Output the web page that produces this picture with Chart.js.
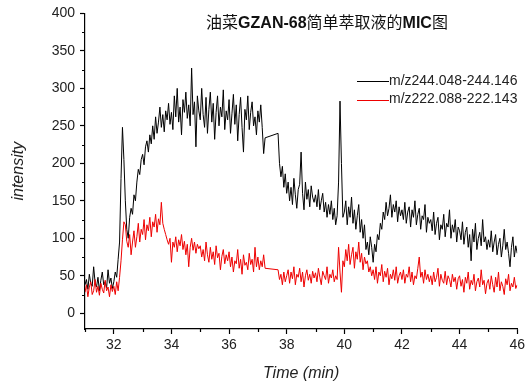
<!DOCTYPE html>
<html>
<head>
<meta charset="utf-8">
<script src="https://cdn.jsdelivr.net/npm/chart.js@4.4.0/dist/chart.umd.min.js"></script>
<style>
  html, body { margin: 0; padding: 0; background: #fff; }
</style>
</head>
<body>
<canvas id="micChart" width="528" height="387"></canvas>
<script>
// chart text
var titleParts = ['油菜', 'GZAN-68', '简单萃取液的', 'MIC', '图'];
var seriesNames = ['m/z244.048-244.146', 'm/z222.088-222.143'];

// axes
var xTicks = [32, 34, 36, 38, 40, 42, 44, 46];
var xMinorTicks = [31, 33, 35, 37, 39, 41, 43, 45];
var yTicks = [0, 50, 100, 150, 200, 250, 300, 350, 400];
var yMinorTicks = [25, 75, 125, 175, 225, 275, 325, 375];

// scans every 0.05 min from 31.00 to 46.00, one row per minute
var startTime = 31;
var timeStep = 0.05;

var mz244 = [
    38, 45, 32, 52, 40, 36, 62, 41, 35, 48, 30, 44, 55, 38, 42, 34, 58, 40, 47, 33,
    42, 55, 48, 72, 95, 180, 248, 205, 150, 112, 100, 128, 140, 132, 158, 150, 175, 192, 185, 205,
    212, 198, 222, 230, 215, 238, 226, 250, 232, 262, 240, 255, 275, 248, 265, 242, 270, 258, 280, 252,
    268, 245, 290, 262, 300, 255, 275, 238, 285, 268, 295, 260, 278, 250, 327, 265, 282, 222, 290, 270,
    258, 300, 265, 248, 288, 240, 272, 295, 255, 280, 232, 268, 290, 250, 275, 262, 298, 245, 270, 258,
    285, 240, 266, 292, 252, 278, 230, 265, 288, 248, 215, 272, 258, 290, 245, 268, 282, 250, 262, 238,
    270, 255, 278, 248, 213, 234, null, null, null, null, null, null, null, null, 240, 200, 182, 196, 168, 186,
    160, 175, 150, 168, 145, 180, 158, 140, 165, 172, 215, 160, 138, 175, 152, 165, 142, 170, 155, 148,
    158, 142, 165, 138, 150, 160, 135, 148, 128, 145, 132, 150, 125, 140, 118, 130, 175, 283, 200, 128,
    135, 150, 118, 142, 128, 155, 120, 138, 112, 130, 145, 108, 125, 100, 118, 85, 95, 78, 102, 88,
    68, 92, 82, 105, 98, 120, 112, 135, 125, 148, 130, 140, 158, 128, 145, 135, 150, 122, 142, 130,
    138, 125, 148, 120, 135, 142, 115, 138, 128, 150, 118, 132, 140, 112, 130, 125, 145, 108, 128, 120,
    125, 110, 135, 105, 120, 128, 98, 118, 112, 132, 102, 120, 115, 138, 100, 118, 108, 125, 95, 115,
    110, 98, 122, 92, 108, 115, 88, 105, 70, 112, 95, 120, 85, 100, 108, 90, 125, 95, 102, 85,
    98, 88, 110, 82, 95, 105, 78, 92, 100, 75, 90, 112, 85, 95, 80, 62, 88, 102, 75, 90,
    80
];

var mz222 = [
    28, 38, 22, 35, 42, 25, 30, 45, 28, 36, 24, 40, 32, 27, 44, 30, 35, 22, 38, 29,
    36, 25, 42, 30, 48, 70, 98, 122, 118, 96, 88, 105, 78, 95, 110, 88, 102, 120, 95, 112,
    105, 125, 98, 118, 110, 128, 102, 122, 115, 132, 108, 126, 118, 148, 120, 112, 105, 98, 92, 100,
    68, 95, 88, 102, 82, 98, 90, 105, 85, 96, 78, 92, 62, 88, 100, 84, 95, 80, 92, 86,
    90, 75, 85, 70, 95, 78, 68, 88, 72, 82, 65, 90, 74, 80, 58, 76, 85, 66, 78, 70,
    82, 62, 75, 55, 70, 66, 85, 60, 72, 52, 78, 64, 68, 58, 80, 65, 72, 55, 88, 62,
    75, 58, 70, 62, 78, 60, null, null, null, null, null, null, null, null, 58, 45, 52, 38, 55, 42,
    50, 58, 40, 55, 46, 62, 38, 52, 48, 60, 42, 55, 35, 50, 58, 44, 52, 40, 56, 47,
    54, 42, 60, 48, 38, 56, 50, 45, 62, 40, 52, 47, 58, 42, 50, 45, 88, 55, 28, 70,
    62, 85, 70, 92, 65, 78, 88, 60, 82, 72, 95, 68, 80, 58, 75, 66, 70, 55, 62, 50,
    58, 45, 62, 40, 55, 50, 65, 42, 56, 48, 60, 38, 52, 46, 58, 44, 62, 40, 50, 55,
    45, 58, 40, 52, 48, 62, 42, 55, 38, 50, 46, 60, 75, 48, 55, 40, 58, 45, 52, 42,
    50, 38, 55, 42, 48, 60, 36, 52, 44, 40, 56, 38, 50, 45, 35, 52, 42, 48, 32, 46,
    50, 36, 45, 28, 48, 40, 55, 32, 44, 38, 52, 30, 42, 47, 35, 58, 38, 44, 26, 40,
    45, 32, 50, 38, 28, 48, 35, 55, 30, 42, 36, 25, 46, 38, 52, 30, 40, 35, 48, 33,
    38
];

var FONT = '"Liberation Sans", Arial, sans-serif';
var CJK = '"Liberation Sans", "Noto Sans CJK SC", sans-serif';

function toPoints(values) {
    return values.map(function (v, i) {
        return { x: startTime + i * timeStep, y: v };
    });
}

// minor ticks, title and in-plot legend
var overlay = {
    id: 'overlay',
    afterDraw: function (chart) {
        var ctx = chart.ctx;
        var xs = chart.scales.x;
        var ys = chart.scales.y;

        ctx.save();
        ctx.strokeStyle = '#000';
        ctx.lineWidth = 1.2;
        ctx.beginPath();
        xMinorTicks.forEach(function (v) {
            var px = Math.round(xs.getPixelForValue(v)) + 0.5;
            ctx.moveTo(px, xs.top);
            ctx.lineTo(px, xs.top + 3);
        });
        yMinorTicks.forEach(function (v) {
            var py = Math.round(ys.getPixelForValue(v)) + 0.5;
            ctx.moveTo(ys.right, py);
            ctx.lineTo(ys.right - 3, py);
        });
        ctx.stroke();

        // title, latin parts in bold
        var fonts = titleParts.map(function (p, i) {
            return (i % 2 === 1 ? 'bold ' : '') + '16px ' + CJK;
        });
        var total = 0;
        titleParts.forEach(function (p, i) {
            ctx.font = fonts[i];
            total += ctx.measureText(p).width;
        });
        var tx = 327 - total / 2;
        ctx.fillStyle = '#111';
        ctx.textBaseline = 'middle';
        ctx.textAlign = 'left';
        titleParts.forEach(function (p, i) {
            ctx.font = fonts[i];
            ctx.fillText(p, tx, 24);
            tx += ctx.measureText(p).width;
        });

        // legend
        ctx.font = '14px ' + FONT;
        chart.data.datasets.forEach(function (ds, i) {
            var ly = 81 + i * 18.5;
            ctx.strokeStyle = ds.borderColor;
            ctx.lineWidth = 1;
            ctx.beginPath();
            ctx.moveTo(357, Math.round(ly) + 0.5);
            ctx.lineTo(389, Math.round(ly) + 0.5);
            ctx.stroke();
            ctx.fillStyle = '#222';
            ctx.fillText(ds.label, 389, ly);
        });
        ctx.restore();
    }
};

var ctx = document.getElementById('micChart').getContext('2d');

var micChart = new Chart(ctx, {
    type: 'line',
    data: {
        datasets: [{
            label: seriesNames[0],
            data: toPoints(mz244),
            borderColor: '#000000',
            borderWidth: 1,
            pointRadius: 0,
            spanGaps: true,
            order: 1
        }, {
            label: seriesNames[1],
            data: toPoints(mz222),
            borderColor: '#ee0000',
            borderWidth: 1,
            pointRadius: 0,
            spanGaps: true,
            order: 0
        }]
    },
    options: {
        responsive: false,
        animation: false,
        layout: { padding: { top: 13, right: 9, left: 0, bottom: 0 } },
        plugins: {
            legend: { display: false },
            tooltip: { enabled: false }
        },
        scales: {
            x: {
                type: 'linear',
                min: 31,
                max: 46,
                afterBuildTicks: function (scale) {
                    scale.ticks = xTicks.map(function (v) { return { value: v }; });
                },
                afterFit: function (scale) { scale.height = 58; },
                border: { color: '#000', width: 1.2 },
                grid: { drawOnChartArea: false, tickLength: 5, tickColor: '#000', tickWidth: 1.2 },
                ticks: { color: '#222', font: { family: FONT, size: 14 }, padding: 3, maxRotation: 0 },
                title: {
                    display: true,
                    text: 'Time (min)',
                    color: '#222',
                    font: { family: FONT, size: 16, style: 'italic' },
                    padding: { top: 0, bottom: 4 }
                }
            },
            y: {
                min: -21,
                max: 400,
                afterBuildTicks: function (scale) {
                    scale.ticks = yTicks.map(function (v) { return { value: v }; });
                },
                afterFit: function (scale) { scale.width = 85; },
                border: { color: '#000', width: 1.2 },
                grid: { drawOnChartArea: false, tickLength: 5, tickColor: '#000', tickWidth: 1.2 },
                ticks: { color: '#222', font: { family: FONT, size: 14 }, padding: 5 },
                title: {
                    display: true,
                    text: 'intensity',
                    color: '#222',
                    font: { family: FONT, size: 16, style: 'italic' },
                    padding: { top: 9, bottom: 0 }
                }
            }
        }
    },
    plugins: [overlay]
});
</script>
</body>
</html>
